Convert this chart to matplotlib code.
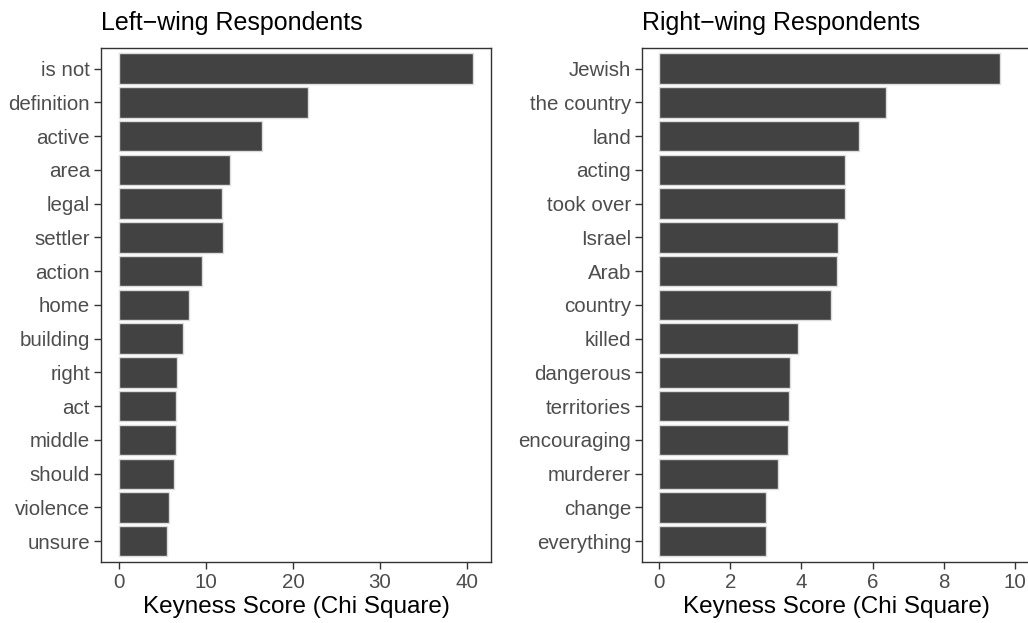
import matplotlib.pyplot as plt

plt.rcParams['font.family'] = ['Liberation Sans', 'DejaVu Sans']

# left-wing keyness (top to bottom)
left_terms = ['is not', 'definition', 'active', 'area', 'legal', 'settler', 'action',
              'home', 'building', 'right', 'act', 'middle', 'should', 'violence', 'unsure']
left_scores = [40.7, 21.7, 16.5, 12.8, 11.9, 11.95, 9.55, 8.07, 7.38, 6.69, 6.61, 6.61,
               6.35, 5.73, 5.5]

# right-wing keyness (top to bottom)
right_terms = ['Jewish', 'the country', 'land', 'acting', 'took over', 'Israel', 'Arab',
               'country', 'killed', 'dangerous', 'territories', 'encouraging', 'murderer',
               'change', 'everything']
right_scores = [9.6, 6.37, 5.62, 5.22, 5.23, 5.02, 5.0, 4.82, 3.91, 3.68, 3.64, 3.61,
                3.33, 3.0, 3.0]

bar_col = '#424242'
frame_col = '#333333'
tick_txt = '#4d4d4d'

fig = plt.figure(figsize=(10.28, 6.23), dpi=100)
ax1 = fig.add_axes([101 / 1028, 61.5 / 623, 390 / 1028, 513.2 / 623])
ax2 = fig.add_axes([642.3 / 1028, 61.5 / 623, 388 / 1028, 513.2 / 623])


def panel(ax, terms, scores, title, xlim, ticks):
    ax.barh(terms[::-1], scores[::-1], height=0.9, color=bar_col,
            edgecolor='#dcdcdc', linewidth=1.0)
    ax.set_ylim(-0.6, len(terms) - 0.4)
    ax.set_xlim(*xlim)
    ax.set_xticks(ticks)
    ax.set_title(title, loc='left', fontsize=18, pad=13, color='black')
    ax.set_xlabel('Keyness Score (Chi Square)', fontsize=17.5, labelpad=3, color='black')
    for s in ax.spines.values():
        s.set_color(frame_col)
        s.set_linewidth(1.0)
    ax.tick_params(axis='both', length=5, width=1.0, color=frame_col,
                   labelsize=14.8, labelcolor=tick_txt, pad=3)


panel(ax1, left_terms, left_scores, 'Left\u2212wing Respondents', (-2.035, 42.735),
      [0, 10, 20, 30, 40])
panel(ax2, right_terms, right_scores, 'Right\u2212wing Respondents', (-0.48, 10.44),
      [0, 2, 4, 6, 8, 10])

fig.savefig('out.png', dpi=100)
